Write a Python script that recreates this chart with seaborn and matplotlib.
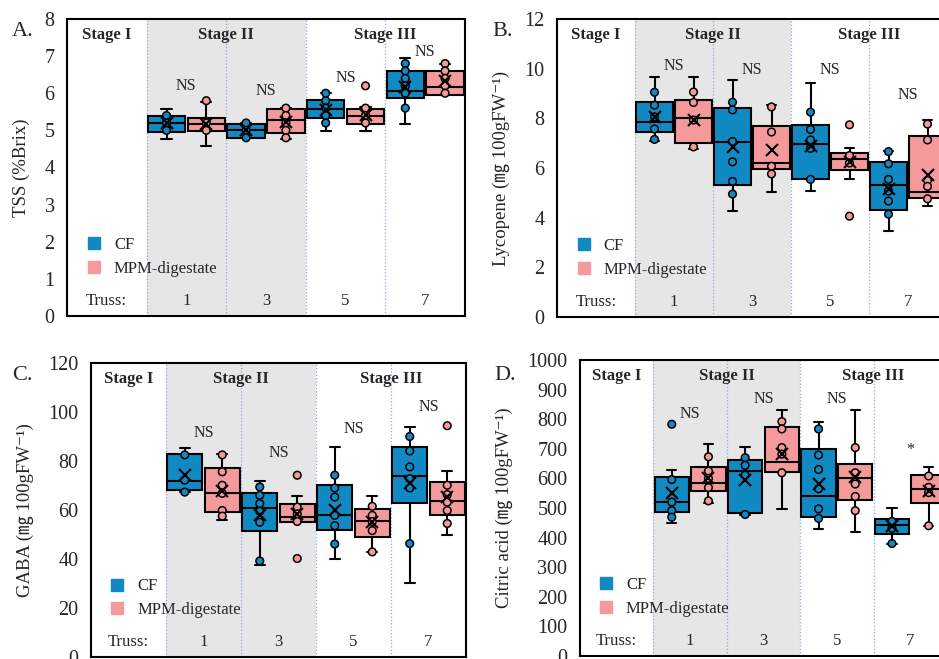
import numpy as np
import pandas as pd
import matplotlib.pyplot as plt
import matplotlib.transforms as mtransforms
import seaborn as sns
from matplotlib.lines import Line2D

sns.set_theme(style="white")
plt.rcParams['font.family'] = ['Liberation Serif', 'DejaVu Serif', 'Noto Sans CJK JP']

groups = ["CF", "MPM-digestate"]
trusses = ["1", "3", "5", "7"]
order = ["Truss:"] + trusses
colors = {"CF": "#1189c2", "MPM-digestate": "#f59a9b"}

#%% A - TSS: box = [low whisker, q1, median, q3, high whisker]
tss_box_cf = [[4.78, 4.96, 5.19, 5.38, 5.57], [4.8, 4.8, 5.0, 5.18, 5.2],
              [4.98, 5.32, 5.58, 5.83, 6.0], [5.17, 5.87, 6.07, 6.6, 6.96]]
tss_box_mpm = [[4.58, 4.97, 5.17, 5.33, 5.77], [4.78, 4.92, 5.28, 5.57, 5.6],
               [4.98, 5.17, 5.38, 5.58, 5.62], [5.96, 5.96, 6.17, 6.6, 6.78]]
tss_pts_cf = [[5.4, 5.2, 5.0], [5.2, 5.0, 4.8], [6.0, 5.8, 5.6, 5.4, 5.2],
              [6.8, 6.6, 6.4, 6.2, 6.0, 5.6]]
tss_pts_mpm = [[5.8, 5.2, 5.0], [5.6, 5.4, 5.2, 5.0, 4.8], [6.2, 5.6, 5.4, 5.2],
               [6.8, 6.6, 6.4, 6.2, 6.0]]
tss_mean_cf = [5.2, 5.0, 5.55, 6.16]
tss_mean_mpm = [5.17, 5.23, 5.41, 6.34]
tss_sig = ["NS", "NS", "NS", "NS"]
tss_sig_y = [6.2, 6.05, 6.4, 7.1]

#%% B - Lycopene
lyc_box_cf = [[7.07, 7.43, 7.85, 8.65, 9.65], [4.25, 5.33, 7.05, 8.42, 9.54],
              [5.07, 5.54, 6.96, 7.72, 9.43], [3.46, 4.32, 5.3, 6.26, 6.68]]
lyc_box_mpm = [[6.75, 7.0, 8.0, 8.75, 9.65], [5.05, 5.96, 6.21, 7.69, 8.52],
               [5.54, 5.92, 6.36, 6.6, 6.82], [4.46, 4.81, 5.05, 7.3, 7.95]]
lyc_pts_cf = [[9.05, 8.53, 8.06, 7.57, 7.15], [8.65, 8.34, 7.07, 6.25, 5.46, 4.95],
              [8.25, 7.55, 7.13, 6.79, 5.54], [6.66, 6.17, 5.54, 5.07, 4.67, 4.14]]
lyc_pts_mpm = [[9.06, 8.64, 7.93, 6.85], [8.46, 7.45, 6.07, 5.76],
               [7.74, 6.5, 6.2, 4.06], [7.77, 7.13, 5.5, 5.26, 4.76]]
lyc_mean_cf = [8.06, 6.86, 6.89, 5.16]
lyc_mean_mpm = [7.93, 6.73, 6.25, 5.71]
lyc_sig = ["NS", "NS", "NS", "NS"]
lyc_sig_y = [10.1, 9.95, 9.95, 8.95]

#%% C - GABA
gaba_box_cf = [[67.3, 68.3, 71.9, 82.9, 85.2], [37.6, 51.3, 60.9, 66.9, 71.9],
               [40.2, 51.8, 57.8, 70.1, 85.6], [30.3, 63.0, 73.9, 85.6, 93.7]]
gaba_box_mpm = [[56.0, 59.2, 66.8, 77.1, 82.9], [55.0, 55.0, 57.1, 62.6, 65.7],
                [42.9, 49.1, 55.7, 60.4, 65.7], [49.8, 58.0, 63.8, 71.3, 76.1]]
gaba_pts_cf = [[82.5, 72.2, 67.3], [69.4, 66.0, 62.6, 59.5, 55.0, 39.2],
               [74.2, 69.0, 65.3, 57.8, 53.6, 46.1], [90.0, 84.1, 77.6, 72.8, 69.0, 46.3]]
gaba_pts_mpm = [[82.5, 75.6, 70.1, 66.8, 59.8, 57.5], [74.2, 61.2, 58.4, 55.3, 40.2],
                [61.5, 57.8, 55.3, 51.6, 42.9], [94.4, 70.1, 66.3, 63.2, 59.8, 54.5]]
gaba_mean_cf = [74.1, 57.8, 59.8, 71.2]
gaba_mean_mpm = [67.8, 58.4, 55.0, 65.3]
gaba_sig = ["NS", "NS", "NS", "NS"]
gaba_sig_y = [91.6, 83.4, 93.0, 102.1]

#%% D - Citric acid
cit_box_cf = [[448, 486, 519, 604, 627], [478, 482, 625, 662, 707],
              [428, 468, 541, 699, 792], [379, 413, 443, 462, 501]]
cit_box_mpm = [[516, 556, 586, 638, 716], [497, 620, 655, 774, 832],
               [418, 527, 602, 649, 832], [440, 518, 563, 612, 637]]
cit_pts_cf = [[783, 596, 520, 491, 469], [670, 644, 611, 478],
              [767, 679, 630, 565, 497, 465], [455, 431, 380]]
cit_pts_mpm = [[673, 625, 600, 569, 524], [792, 767, 704, 682, 619],
               [704, 619, 581, 539, 491], [608, 570, 552, 440]]
cit_mean_cf = [549, 594, 582, 440]
cit_mean_mpm = [600, 682, 605, 556]
cit_sig = ["NS", "NS", "NS", "*"]
cit_sig_y = [818, 868, 868, 696]


def long_frame(cf, mpm):
    rows = []
    for g, vals in zip(groups, [cf, mpm]):
        for t, v in zip(trusses, vals):
            for x in np.atleast_1d(v):
                rows.append((t, g, x))
    return pd.DataFrame(rows, columns=["truss", "group", "value"])


def widen(ax, start):
    # stripplot dodges by 0.8 of the slot, boxes use the full slot
    for c in ax.collections[start:]:
        off = np.asarray(c.get_offsets(), dtype=float)
        if len(off) == 0:
            continue
        ctr = np.round(off[:, 0])
        off[:, 0] = ctr + (off[:, 0] - ctr) * 1.25
        c.set_offsets(off)


def shrink_caps(ax, start, frac=0.27):
    for ln in ax.lines[start:]:
        x, y = np.asarray(ln.get_xdata(), float), np.asarray(ln.get_ydata(), float)
        if len(x) == 2 and y[0] == y[1] and 0 < abs(x[1] - x[0]) < 0.3:
            m = x.mean()
            half = abs(x[1] - x[0]) * frac
            ln.set_xdata([m - half, m + half])


def panel(ax, box_cf, box_mpm, pts_cf, pts_mpm, mean_cf, mean_mpm,
          sig, sig_y, top, step, ylabel):
    ax.axvspan(0.5, 2.5, color="#e6e6e6", zorder=0, lw=0)
    for xv in [0.5, 1.5, 2.5, 3.5]:
        ax.axvline(xv, color="#8eaadb", ls=":", lw=0.9, zorder=0.5)

    nl = len(ax.lines)
    sns.boxplot(data=long_frame(box_cf, box_mpm), x="truss", y="value",
                hue="group", order=order, hue_order=groups, palette=colors,
                whis=(0, 100), width=1.0, gap=0.06, linecolor="black",
                linewidth=1.5, showfliers=False, legend=False, saturation=1,
                ax=ax)
    shrink_caps(ax, nl)
    n = len(ax.collections)
    sns.stripplot(data=long_frame(pts_cf, pts_mpm), x="truss", y="value",
                  hue="group", order=order, hue_order=groups, palette=colors,
                  dodge=True, jitter=False, size=5.5, linewidth=1.1,
                  edgecolor="black", legend=False, zorder=3, ax=ax)
    widen(ax, n)
    sns.pointplot(data=long_frame(mean_cf, mean_mpm), x="truss", y="value",
                  hue="group", order=order, hue_order=groups,
                  palette={"CF": "black", "MPM-digestate": "black"},
                  dodge=0.5, markers="x", linestyles="none", errorbar=None,
                  markersize=9, markeredgewidth=1.5, legend=False, zorder=4,
                  ax=ax)

    trans = mtransforms.blended_transform_factory(ax.transData, ax.transAxes)
    for xv, s in zip([0, 1.5, 3.5], ["Stage I", "Stage II", "Stage III"]):
        ax.text(xv, 0.947, s, transform=trans, ha="center", va="center",
                fontsize=12, fontweight="bold", zorder=5)
    for i, s in enumerate(order):
        ax.text(i, 0.052, s, transform=trans, ha="center", va="center",
                fontsize=12, zorder=5)
    for i, (s, y) in enumerate(zip(sig, sig_y)):
        ax.text(i + 1, y, s, ha="center", va="center", fontsize=11.5, zorder=5)

    ax.set_xlim(-0.5, 4.5)
    ax.set_ylim(0, top)
    ax.set_yticks(np.arange(0, top + step / 2, step))
    ax.set_xticks([])
    ax.set_xlabel("")
    ax.set_ylabel(ylabel, fontsize=13.5, labelpad=10)
    ax.tick_params(axis="y", length=0, pad=9, labelsize=14.5)
    for sp in ax.spines.values():
        sp.set_color("black")
        sp.set_linewidth(1.5)
        sp.set_visible(True)

    handles = [Line2D([], [], marker="s", ls="none", color=colors[g],
                      markersize=9) for g in groups]
    ax.legend(handles, groups, loc="lower left", bbox_to_anchor=(0.03, 0.11),
              frameon=False, fontsize=12, handlelength=1.0, handletextpad=0.7,
              labelspacing=0.45, borderaxespad=0)


W, H = 939, 659
fig = plt.figure(figsize=(W / 100, H / 100), dpi=100)

ax_a = fig.add_axes([67 / W, 1 - 316 / H, 398 / W, 297 / H])
ax_b = fig.add_axes([557 / W, 1 - 317 / H, 390 / W, 298 / H])
ax_c = fig.add_axes([91 / W, 1 - 657 / H, 375 / W, 294 / H])
ax_d = fig.add_axes([580 / W, 1 - 656 / H, 367 / W, 296 / H])

mg = "\u338e"
panel(ax_a, tss_box_cf, tss_box_mpm, tss_pts_cf, tss_pts_mpm, tss_mean_cf,
      tss_mean_mpm, tss_sig, tss_sig_y, 8, 1, "TSS (%Brix)")
panel(ax_b, lyc_box_cf, lyc_box_mpm, lyc_pts_cf, lyc_pts_mpm, lyc_mean_cf,
      lyc_mean_mpm, lyc_sig, lyc_sig_y, 12, 2, f"Lycopene ({mg} 100gFW\u207b\u00b9)")
panel(ax_c, gaba_box_cf, gaba_box_mpm, gaba_pts_cf, gaba_pts_mpm, gaba_mean_cf,
      gaba_mean_mpm, gaba_sig, gaba_sig_y, 120, 20, f"GABA ({mg} 100gFW\u207b\u00b9)")
panel(ax_d, cit_box_cf, cit_box_mpm, cit_pts_cf, cit_pts_mpm, cit_mean_cf,
      cit_mean_mpm, cit_sig, cit_sig_y, 1000, 100, f"Citric acid ({mg} 100gFW\u207b\u00b9)")

for s, x, y in [("A.", 23, 32), ("B.", 503, 32), ("C.", 22, 375), ("D.", 505, 375)]:
    fig.text(x / W, 1 - y / H, s, ha="center", va="center", fontsize=16)

fig.savefig("out.png", dpi=100)
